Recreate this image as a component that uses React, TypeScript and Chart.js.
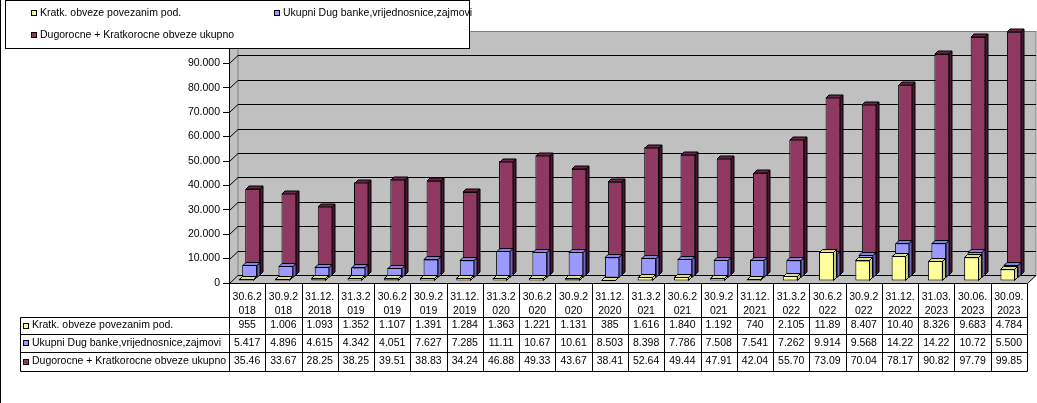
import { useEffect, useRef } from 'react';
import { Chart, registerables } from 'chart.js';

Chart.register(...registerables);

const categories = [
  '30.6.2018', '30.9.2018', '31.12.2018', '31.3.2019', '30.6.2019', '30.9.2019',
  '31.12.2019', '31.3.2020', '30.6.2020', '30.9.2020', '31.12.2020', '31.3.2021',
  '30.6.2021', '30.9.2021', '31.12.2021', '31.3.2022', '30.6.2022', '30.9.2022',
  '31.12.2022', '31.03.2023', '30.06.2023', '30.09.2023',
];

const kratkObveze = [
  955, 1006, 1093, 1352, 1107, 1391, 1284, 1363, 1221, 1131, 385, 1616,
  1840, 1192, 740, 2105, 11890, 8407, 10400, 8326, 9683, 4784,
];

const ukupniDug = [
  5417, 4896, 4615, 4342, 4051, 7627, 7285, 11110, 10670, 10610, 8503, 8398,
  7786, 7508, 7541, 7262, 9914, 9568, 14220, 14220, 10720, 5500,
];

const dugorocneUkupno = [
  35460, 33670, 28250, 38250, 39510, 38830, 34240, 46880, 49330, 43670, 38410, 52640,
  49440, 47910, 42040, 55700, 73090, 70040, 78170, 90820, 97790, 99850,
];

const seriesNames = [
  'Kratk. obveze povezanim pod.',
  'Ukupni Dug banke,vrijednosnice,zajmovi',
  'Dugorocne + Kratkorocne obveze ukupno',
];

const yMin = 0;
const yMax = 100000;
const yStep = 10000;

// styling
const FONT = '"Liberation Sans", Arial, sans-serif';
const FSIZE = 10.5;
const FRONT = ['#FFFF99', '#9999FF', '#8E3862'];
const SIDE = ['#C8C880', '#6A6AC0', '#4A1733'];
const TOP = ['#E0E088', '#8484E0', '#6A2548'];
const SHIFT: [number, number][] = [[-1, -2], [2.5, -5], [5.5, -7.5]];
const DEPTH = 3;
const DX = 8.5;
const DY = 8;

const fmt = (v: number) => String(Math.round(v)).replace(/\B(?=(\d{3})+(?!\d))/g, '.');

const threeD = {
  id: 'threeD',
  beforeDraw(chart: any) {
    const { ctx, chartArea: a, scales } = chart;
    const y = scales.y;
    const y0 = Math.round(y.getPixelForValue(yMin)) + 0.5;
    const yT = Math.round(y.getPixelForValue(yMax)) + 0.5;
    const L = Math.round(a.left) + 0.5;
    const R = Math.round(a.right) + 0.5;
    const bL = L + DX;
    const bR = R + DX;
    ctx.save();
    ctx.fillStyle = '#C0C0C0';
    ctx.fillRect(bL, yT - DY, bR - bL, y0 - yT);
    ctx.beginPath();
    ctx.moveTo(L, y0); ctx.lineTo(L, yT); ctx.lineTo(bL, yT - DY); ctx.lineTo(bL, y0 - DY); ctx.closePath();
    ctx.fill();
    ctx.beginPath();
    ctx.moveTo(L, y0); ctx.lineTo(bL, y0 - DY); ctx.lineTo(bR, y0 - DY); ctx.lineTo(R, y0); ctx.closePath();
    ctx.fill();
    ctx.lineWidth = 1;
    ctx.strokeStyle = '#808080';
    ctx.strokeRect(bL, yT - DY, bR - bL, y0 - yT);
    ctx.beginPath();
    ctx.moveTo(L, yT); ctx.lineTo(bL, yT - DY);
    ctx.stroke();
    ctx.strokeStyle = '#000';
    for (let v = yMin; v < yMax; v += yStep) {
      const py = Math.round(y.getPixelForValue(v)) + 0.5;
      ctx.beginPath();
      ctx.moveTo(L, py);
      ctx.lineTo(bL, py - DY);
      ctx.lineTo(bR, py - DY);
      ctx.stroke();
    }
    ctx.beginPath();
    ctx.moveTo(L, y0); ctx.lineTo(R, y0); ctx.lineTo(bR, y0 - DY);
    ctx.stroke();
    ctx.restore();
  },
  beforeDatasetDraw(chart: any, args: any) {
    const s = SHIFT[args.index] || [0, 0];
    chart.ctx.save();
    chart.ctx.translate(s[0], s[1]);
  },
  afterDatasetDraw(chart: any, args: any) {
    const ctx = chart.ctx;
    const i = args.index;
    ctx.lineWidth = 1;
    ctx.strokeStyle = '#000';
    args.meta.data.forEach((el: any) => {
      const { x, y, base, width } = el.getProps(['x', 'y', 'base', 'width'], true);
      const l = Math.round(x - width / 2) + 0.5;
      const r = Math.round(x + width / 2) - 0.5;
      const t = Math.round(y) + 0.5;
      const b = Math.round(base) - 0.5;
      ctx.beginPath();
      ctx.moveTo(r, t); ctx.lineTo(r + DEPTH, t - DEPTH); ctx.lineTo(r + DEPTH, b - DEPTH); ctx.lineTo(r, b); ctx.closePath();
      ctx.fillStyle = SIDE[i];
      ctx.fill();
      ctx.stroke();
      ctx.beginPath();
      ctx.moveTo(l, t); ctx.lineTo(l + DEPTH, t - DEPTH); ctx.lineTo(r + DEPTH, t - DEPTH); ctx.lineTo(r, t); ctx.closePath();
      ctx.fillStyle = TOP[i];
      ctx.fill();
      ctx.stroke();
    });
    ctx.restore();
  },
  afterDraw(chart: any) {
    const { ctx, chartArea: a } = chart;
    const series = [kratkObveze, ukupniDug, dugorocneUkupno];
    const n = categories.length;
    const colW = (a.right - a.left) / n;
    const R = Math.round(a.right) + 0.5;
    const headTop = Math.round(a.bottom) + 0.5;
    const rows = [317.5, 334.5, 352.5, 371.5];
    const legL = 20.5;
    ctx.save();
    ctx.lineWidth = 1;
    ctx.strokeStyle = '#000';
    for (let i = 0; i <= n; i++) {
      const px = Math.round(a.left + i * colW) + 0.5;
      ctx.beginPath();
      ctx.moveTo(px, headTop);
      ctx.lineTo(px, rows[3]);
      ctx.stroke();
    }
    rows.forEach((ry) => {
      ctx.beginPath();
      ctx.moveTo(legL, ry);
      ctx.lineTo(R, ry);
      ctx.stroke();
    });
    ctx.beginPath();
    ctx.moveTo(legL, rows[0]); ctx.lineTo(legL, rows[3]);
    ctx.stroke();
    ctx.font = `${FSIZE}px ${FONT}`;
    ctx.fillStyle = '#000';
    ctx.textBaseline = 'middle';
    series.forEach((vals, r) => {
      const cy = (rows[r] + rows[r + 1]) / 2 - 0.5;
      ctx.textAlign = 'center';
      vals.forEach((v, i) => {
        ctx.fillText(fmt(v).slice(0, 5), a.left + (i + 0.5) * colW, cy);
      });
      ctx.textAlign = 'left';
      ctx.fillStyle = FRONT[r];
      ctx.fillRect(23, Math.round(cy) - 3, 6, 6);
      ctx.strokeRect(23.5, Math.round(cy) - 2.5, 5, 5);
      ctx.fillStyle = '#000';
      ctx.fillText(seriesNames[r], 32, cy);
    });
    // legend box
    ctx.fillStyle = '#fff';
    ctx.fillRect(5, 0, 465, 49);
    ctx.strokeRect(5.5, 0.5, 464, 48);
    const items: [number, number, number][] = [[0, 31, 13], [1, 274, 13], [2, 31, 35]];
    items.forEach(([k, lx, ly]) => {
      ctx.fillStyle = FRONT[k];
      ctx.fillRect(lx, ly - 3, 6, 6);
      ctx.strokeRect(lx + 0.5, ly - 2.5, 5, 5);
      ctx.fillStyle = '#000';
      ctx.textAlign = 'left';
      ctx.fillText(seriesNames[k], lx + 9, ly);
    });
    ctx.beginPath();
    ctx.moveTo(0.5, 0); ctx.lineTo(0.5, chart.height);
    ctx.stroke();
    ctx.restore();
  },
};

export default function App() {
  const ref = useRef<HTMLCanvasElement>(null);
  useEffect(() => {
    document.body.style.margin = '0';
    const canvas = ref.current;
    if (!canvas) return;
    const data = [kratkObveze, ukupniDug, dugorocneUkupno];
    const chart = new Chart(canvas, {
      type: 'bar',
      data: {
        labels: categories.map((c) => [c.slice(0, 6), c.slice(6)]),
        datasets: data.map((d, i) => ({
          label: seriesNames[i],
          data: d,
          backgroundColor: FRONT[i],
          borderColor: '#000',
          borderWidth: 1,
          borderSkipped: false,
          grouped: false,
          barPercentage: 0.41,
          categoryPercentage: 1,
          clip: false as any,
        })),
      },
      options: {
        responsive: false,
        animation: false,
        events: [],
        layout: { padding: { left: 0, top: 39, right: 10, bottom: 86 } },
        plugins: { legend: { display: false }, tooltip: { enabled: false } },
        scales: {
          x: {
            grid: { display: false, drawTicks: false },
            border: { display: false },
            ticks: {
              font: { family: FONT, size: FSIZE, lineHeight: '14px' as any },
              color: '#000',
              padding: 7,
              maxRotation: 0,
              autoSkip: false,
            },
            afterFit: (s: any) => { s.height = 34; },
          },
          y: {
            min: yMin,
            max: yMax,
            grid: { drawOnChartArea: false, tickLength: 6, color: '#000' },
            border: { display: true, color: '#000' },
            ticks: {
              stepSize: yStep,
              font: { family: FONT, size: FSIZE },
              color: '#000',
              padding: 3,
              callback: (v: any) => fmt(Number(v)),
            },
            afterFit: (s: any) => { s.width = 229; },
          },
        },
      },
      plugins: [threeD],
    });
    return () => chart.destroy();
  }, []);
  return (
    <div style={{ width: 1037, height: 403, background: '#fff' }}>
      <canvas ref={ref} width={1037} height={403} style={{ display: 'block' }} />
    </div>
  );
}
